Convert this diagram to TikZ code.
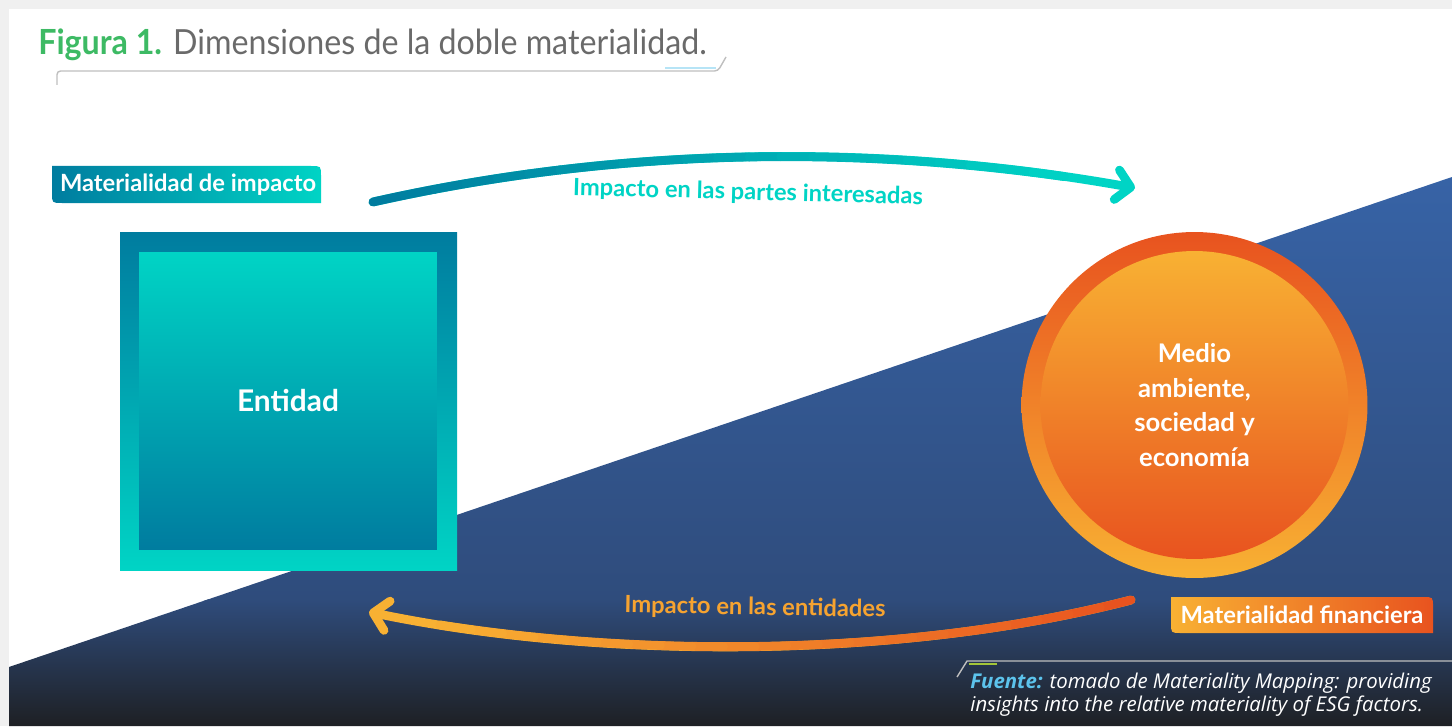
\documentclass[tikz,border=0pt]{standalone}
\usepackage{fontspec}
\setmainfont{Lato}
\newfontfamily\srcfont{Open Sans}
\usetikzlibrary{arrows.meta}

\definecolor{tealD}{HTML}{007C9F}
\definecolor{cyanT}{HTML}{00D4C5}
\definecolor{orRed}{HTML}{E8531F}
\definecolor{orYel}{HTML}{F8B133}
\definecolor{blueTop}{HTML}{3763A6}
\definecolor{blueMid}{HTML}{2F4C7C}
\definecolor{darkBot}{HTML}{1E2024}
\definecolor{titleGreen}{HTML}{3DBA64}
\definecolor{titleGray}{HTML}{6A6A6A}
\definecolor{srcBlue}{HTML}{5CC3EC}
\definecolor{srcGreen}{HTML}{A4C639}

\tikzset{
  lbl/.style={text=white, font=\bfseries\fontsize{13.5}{16}\selectfont, inner sep=0pt},
  flowtext/.style={font=\bfseries\fontsize{13.5}{16}\selectfont, inner sep=0pt},
  flow/.style={line width=5pt, line cap=round, -{Straight Barb[round,length=8pt,width=17pt]}},
  seg/.style={line width=5pt, line cap=round, dash pattern=on 18pt off 900pt},
}

\begin{document}
\begin{tikzpicture}[x=0.02cm, y=-0.02cm]
	\useasboundingbox (0,0) rectangle (1452,726);
	\fill[black!6] (0,0) rectangle (1452,726);
	\fill[white] (9,9) rectangle (1452,726);

	\begin{scope}
		\clip (9,667) -- (1452,177) -- (1452,726) -- (9,726) -- cycle;
		\shade[top color=blueTop, bottom color=blueMid] (0,176) rectangle (1452,600);
		\shade[top color=blueMid, bottom color=darkBot] (0,599) rectangle (1452,726);
	\end{scope}

	\node[anchor=base west, inner sep=0pt] (titulo) at (38,55)
		{\scalebox{0.93}[1]{\fontsize{19.7}{22}\selectfont\textcolor{titleGreen}{\bfseries Figura 1.} \textcolor{titleGray}{Dimensiones de la doble materialidad.}}};
	\draw[black!25, line width=0.8pt, rounded corners=2pt] (57,85) -- (57,71) -- (718,71) -- (726,57);
	\draw[srcBlue!45, line width=1pt] (665,68) -- (716,68);

	\shade[left color=tealD, right color=cyanT] (52,166) -- (311,166) .. controls (321,166) .. (321,176)
		-- (321,203) -- (62,203) .. controls (52,203) .. (52,193) -- cycle;
	\node[lbl] (impacto) at (188,185) {Materialidad de impacto};

	\shade[left color=orYel, right color=orRed] (1171,597) -- (1423,597) .. controls (1433,597) .. (1433,607)
		-- (1433,633) -- (1181,633) .. controls (1171,633) .. (1171,623) -- cycle;
	\node[lbl] (financiera) at (1302,615) {Materialidad financiera};

	\shade[top color=tealD, bottom color=cyanT] (120,232) rectangle (457,570);
	\node[top color=cyanT, bottom color=tealD, minimum width=5.96cm, minimum height=5.96cm,
		text=white, font=\bfseries\fontsize{17}{20}\selectfont] (entidad) at (288,401) {Entidad};

	\node[circle, top color=orRed, bottom color=orYel, minimum size=6.92cm] (anillo) at (1194.5,405) {};
	\node[circle, top color=orYel, bottom color=orRed, minimum size=6.16cm, align=center,
		text=white, font=\bfseries\fontsize{14.6}{19.8}\selectfont] (medio) at (anillo.center)
		{Medio\\ambiente,\\sociedad y\\economía};

	\coordinate (impA) at (373,202);
	\coordinate (impC) at (640,142);
	\coordinate (impD) at (900,146);
	\coordinate (impB) at (1135,188);
	\coordinate (finA) at (1131,600);
	\coordinate (finC) at (900,660);
	\coordinate (finD) at (600,660);
	\coordinate (finB) at (369,612);

	\foreach \p/\ca/\cb in {imp/tealD/cyanT, fin/orRed/orYel} {
		\draw[flow, \cb] (\p A) .. controls (\p C) and (\p D) .. (\p B);
		\foreach \k in {0,...,21} {
			\pgfmathtruncatemacro\pct{100-100*\k/22}
			\pgfmathsetmacro\ph{918-18*\k}
			\draw[seg, \ca!\pct!\cb, dash phase=\ph pt] (\p A) .. controls (\p C) and (\p D) .. (\p B);
		}
	}

	\node[flowtext, text=cyanT, rotate=-1.5] (partes) at (748,193) {Impacto en las partes interesadas};
	\node[flowtext, text=orYel!85!orRed, rotate=-1] (entidades) at (755,608) {Impacto en las entidades};

	\draw[black!25, line width=0.8pt] (957,677) -- (967,661) -- (1452,661);
	\draw[srcGreen, line width=1pt] (969,664) -- (997,664);
	\node[anchor=north west, inner sep=0pt, align=left, text=white,
		font=\srcfont\itshape\fontsize{11.6}{10.8}\selectfont] (fuente) at (970,673)
		{\textcolor{srcBlue}{\bfseries Fuente:} tomado de Materiality Mapping: providing\\insights into the relative materiality of ESG factors.};
\end{tikzpicture}
\end{document}
